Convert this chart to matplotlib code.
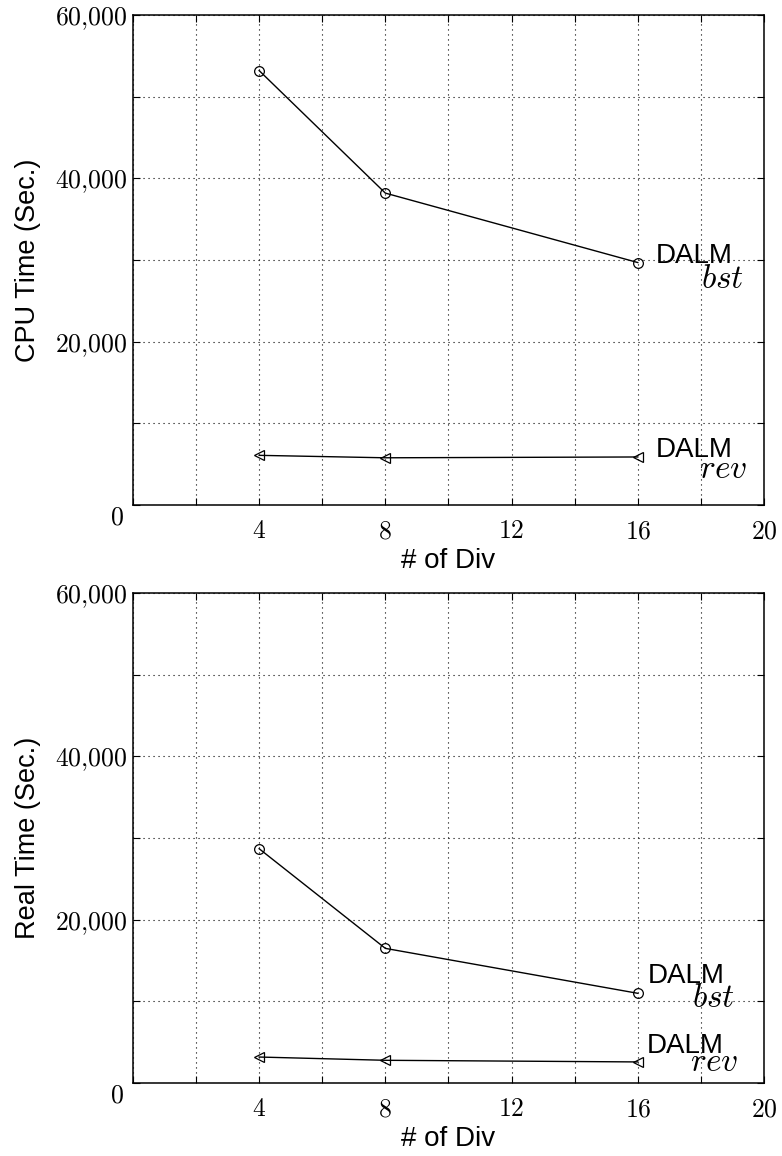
import matplotlib
matplotlib.use('Agg')
import matplotlib.pyplot as plt
import matplotlib.transforms as mtransforms

plt.rcParams['mathtext.fontset'] = 'cm'
plt.rcParams['font.family'] = ['Liberation Sans', 'DejaVu Sans']

# data
divs = [4, 8, 16]
cpu_bst = [53200, 38200, 29700]
cpu_rev = [6100, 5800, 5900]
real_bst = [28700, 16500, 11000]
real_rev = [3200, 2800, 2600]

x_ticks = list(range(0, 21, 2))
x_labels = ['' if t in (0, 2) or t % 4 else '$%d$' % t for t in x_ticks]
y_ticks = list(range(0, 60001, 10000))
y_labels = ['' if t % 20000 else ('$0$' if t == 0 else '$%d{,}000$' % (t // 1000)) for t in y_ticks]

fig = plt.figure(figsize=(7.82, 11.56), dpi=100)
ax1 = fig.add_axes([0.170, 0.563, 0.807, 0.424])
ax2 = fig.add_axes([0.170, 0.063, 0.807, 0.424])


def style(ax, ylabel):
    ax.set_xlim(0, 20)
    ax.set_ylim(0, 60000)
    ax.set_xticks(x_ticks)
    ax.set_xticklabels(x_labels)
    ax.set_yticks(y_ticks)
    ax.set_yticklabels(y_labels)
    ax.tick_params(axis='both', direction='in', top=True, right=True,
                   length=5, width=0.8, labelsize=18.5)
    ax.tick_params(axis='x', pad=10)
    ax.tick_params(axis='y', pad=4)
    ax.grid(True, color='k', linestyle=(0, (1, 3.5)), linewidth=0.8)
    for sp in ax.spines.values():
        sp.set_linewidth(1.1)
    ax.set_xlabel('# of Div', fontsize=20)
    ax.xaxis.set_label_coords(0.5, -0.088)
    ax.set_ylabel(ylabel, fontsize=19.5)
    ax.yaxis.set_label_coords(-0.146, 0.5)
    # "0" sits a little lower and left of its tick
    off = mtransforms.ScaledTranslation(-4 / 100, -10 / 100, fig.dpi_scale_trans)
    lab0 = ax.get_yticklabels()[0]
    lab0.set_transform(lab0.get_transform() + off)


def label(ax, x, y, sub, dx, dy, sdx, sdy):
    ax.annotate('DALM', xy=(x, y), xytext=(dx, dy), textcoords='offset pixels',
                ha='left', va='baseline', fontsize=20)
    ax.annotate('$%s$' % sub, xy=(x, y), xytext=(sdx, sdy), textcoords='offset pixels',
                ha='right', va='baseline', fontsize=24)


ax1.plot(divs, cpu_bst, 'k-', marker='o', mfc='none', ms=7, mew=0.9, lw=1.0)
ax1.plot(divs, cpu_rev, 'k-', marker='<', mfc='none', ms=7, mew=0.9, lw=1.0)
style(ax1, 'CPU Time (Sec.)')
label(ax1, divs[-1], cpu_bst[-1], 'bst', 18, 0, 106, -25)
label(ax1, divs[-1], cpu_rev[-1], 'rev', 18, 0, 109, -21)

ax2.plot(divs, real_bst, 'k-', marker='o', mfc='none', ms=7, mew=0.9, lw=1.0)
ax2.plot(divs, real_rev, 'k-', marker='<', mfc='none', ms=7, mew=0.9, lw=1.0)
style(ax2, 'Real Time (Sec.)')
label(ax2, divs[-1], real_bst[-1], 'bst', 10, 10, 97, -14)
label(ax2, divs[-1], real_rev[-1], 'rev', 9, 9, 100, -9)

fig.savefig('out.png', dpi=100)
